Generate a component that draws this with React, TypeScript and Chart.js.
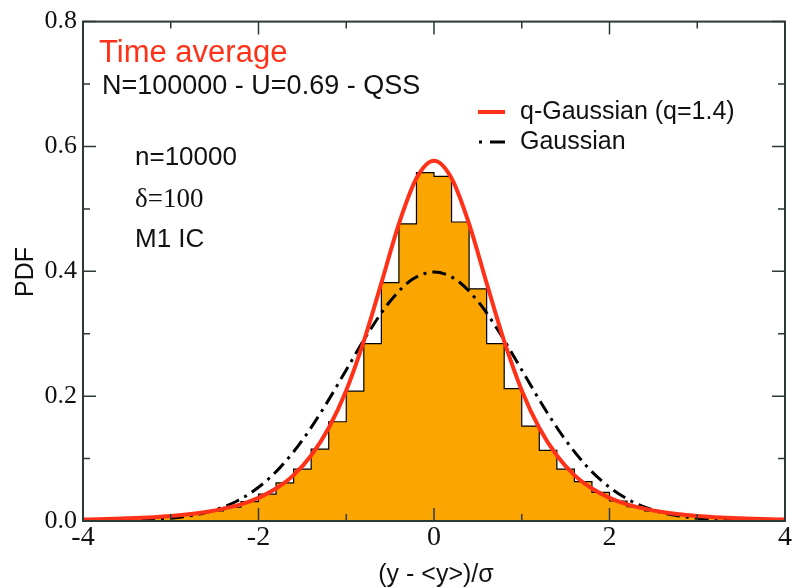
import React, { useEffect, useRef } from 'react';
import { Chart, registerables } from 'chart.js';
Chart.register(...registerables);

// Histogram: left bin edges and heights (bin width 0.2)
const binEdges = [
  -4.0, -3.8, -3.6, -3.4, -3.2, -3.0, -2.8, -2.6, -2.4, -2.2,
  -2.0, -1.8, -1.6, -1.4, -1.2, -1.0, -0.8, -0.6, -0.4, -0.2,
  0.0, 0.2, 0.4, 0.6, 0.8, 1.0, 1.2, 1.4, 1.6, 1.8,
  2.0, 2.2, 2.4, 2.6, 2.8, 3.0, 3.2, 3.4, 3.6, 3.8, 4.0,
];
const histHeights = [
  0.002, 0.003, 0.004, 0.005, 0.007, 0.009, 0.012, 0.016, 0.022, 0.031,
  0.043, 0.061, 0.083, 0.115, 0.159, 0.208, 0.284, 0.382, 0.476, 0.558,
  0.552, 0.479, 0.372, 0.284, 0.212, 0.152, 0.113, 0.083, 0.063, 0.046,
  0.032, 0.023, 0.016, 0.012, 0.009, 0.007, 0.005, 0.004, 0.003, 0.002,
];

// q-Gaussian (q=1.4) curve
const qGaussX = [
  -4, -3.5, -3, -2.6, -2.2, -2, -1.8, -1.6, -1.4, -1.2, -1, -0.8, -0.6, -0.4, -0.2,
  0, 0.2, 0.4, 0.6, 0.8, 1, 1.2, 1.4, 1.6, 1.8, 2, 2.2, 2.6, 3, 3.5, 4,
];
const qGaussY = [
  0.0024, 0.0043, 0.0081, 0.0144, 0.0267, 0.037, 0.052, 0.0735, 0.105, 0.149, 0.209, 0.288, 0.381, 0.476, 0.549,
  0.577, 0.549, 0.476, 0.381, 0.288, 0.209, 0.149, 0.105, 0.0735, 0.052, 0.037, 0.0267, 0.0144, 0.0081, 0.0043, 0.0024,
];

// Gaussian curve
const gaussX = [
  -4, -3.75, -3.5, -3.25, -3, -2.75, -2.5, -2.25, -2, -1.75, -1.5, -1.25, -1, -0.75, -0.5, -0.25,
  0, 0.25, 0.5, 0.75, 1, 1.25, 1.5, 1.75, 2, 2.25, 2.5, 2.75, 3, 3.25, 3.5, 3.75, 4,
];
const gaussY = [
  0.0001, 0.0004, 0.0009, 0.002, 0.0044, 0.0091, 0.0175, 0.0317, 0.054, 0.0863, 0.1295, 0.1826, 0.242, 0.3011, 0.3521, 0.3867,
  0.3989, 0.3867, 0.3521, 0.3011, 0.242, 0.1826, 0.1295, 0.0863, 0.054, 0.0317, 0.0175, 0.0091, 0.0044, 0.002, 0.0009, 0.0004, 0.0001,
];

const xTicks = [-4, -2, 0, 2, 4];
const xMinorTicks = [-3, -1, 1, 3];
const yTicks = [0, 0.2, 0.4, 0.6, 0.8];
const yMinorTicks = [0.1, 0.3, 0.5, 0.7];

const RED = '#ff3219';
const ORANGE = '#fba600';
const FRAME = '#2c3838';

const decorPlugin = {
  id: 'decor',
  afterDatasetsDraw(chart: any) {
    const { ctx, chartArea: a, scales } = chart;
    const xs = scales.x;
    const ys = scales.y;
    ctx.save();
    ctx.strokeStyle = FRAME;
    ctx.lineWidth = 2;
    ctx.strokeRect(a.left, a.top, a.right - a.left, a.bottom - a.top);
    ctx.lineWidth = 1.5;
    const tick = (vals: number[], len: number) => {
      vals.forEach((v) => {
        const px = xs.getPixelForValue(v);
        ctx.beginPath();
        ctx.moveTo(px, a.bottom);
        ctx.lineTo(px, a.bottom - len);
        ctx.moveTo(px, a.top);
        ctx.lineTo(px, a.top + len);
        ctx.stroke();
      });
    };
    const ytick = (vals: number[], len: number) => {
      vals.forEach((v) => {
        const py = ys.getPixelForValue(v);
        ctx.beginPath();
        ctx.moveTo(a.left, py);
        ctx.lineTo(a.left + len, py);
        ctx.moveTo(a.right, py);
        ctx.lineTo(a.right - len, py);
        ctx.stroke();
      });
    };
    tick(xTicks, 13);
    tick(xMinorTicks, 7);
    ytick(yTicks, 13);
    ytick(yMinorTicks, 7);
    ctx.restore();
  },
  afterDraw(chart: any) {
    const { ctx } = chart;
    ctx.save();
    const sans = '"Liberation Sans", Arial, sans-serif';
    const serif = '"Liberation Serif", "Times New Roman", serif';
    ctx.textAlign = 'left';
    ctx.textBaseline = 'alphabetic';
    ctx.fillStyle = RED;
    ctx.font = `31px ${sans}`;
    ctx.fillText('Time average', 99, 62);
    ctx.fillStyle = '#111';
    ctx.font = `27px ${sans}`;
    ctx.fillText('N=100000 - U=0.69 - QSS', 102, 94);
    ctx.font = `26px ${sans}`;
    ctx.fillText('n=10000', 135, 165);
    ctx.font = `27px ${serif}`;
    ctx.fillText('δ=100', 135, 207);
    ctx.font = `26px ${sans}`;
    ctx.fillText('M1 IC', 135, 247);

    // legend
    ctx.font = `25px ${sans}`;
    ctx.textBaseline = 'middle';
    ctx.fillText('q-Gaussian (q=1.4)', 520, 112);
    ctx.fillText('Gaussian', 520, 142);
    ctx.strokeStyle = RED;
    ctx.lineWidth = 4;
    ctx.beginPath();
    ctx.moveTo(478, 112);
    ctx.lineTo(505, 112);
    ctx.stroke();
    ctx.strokeStyle = '#000';
    ctx.lineWidth = 3;
    ctx.beginPath();
    ctx.moveTo(479, 142);
    ctx.lineTo(482, 142);
    ctx.moveTo(490, 142);
    ctx.lineTo(505, 142);
    ctx.stroke();

    // axis titles
    ctx.fillStyle = '#111';
    ctx.textAlign = 'center';
    ctx.textBaseline = 'alphabetic';
    ctx.font = `25px ${sans}`;
    ctx.fillText('(y - <y>)/σ', 436, 582);
    ctx.save();
    ctx.translate(33, 272);
    ctx.rotate(-Math.PI / 2);
    ctx.font = `25px ${sans}`;
    ctx.fillText('PDF', 0, 0);
    ctx.restore();
    ctx.restore();
  },
};

export default function App() {
  const ref = useRef<HTMLCanvasElement>(null);
  useEffect(() => {
    document.body.style.margin = '0';
    const canvas = ref.current;
    if (!canvas) return;
    const histData = histHeights.map((h, i) => ({ x: binEdges[i], y: h }));
    histData.push({ x: binEdges[binEdges.length - 1], y: 0 });
    const qData = qGaussX.map((x, i) => ({ x, y: qGaussY[i] }));
    const gData = gaussX.map((x, i) => ({ x, y: gaussY[i] }));
    const chart = new Chart(canvas, {
      type: 'line',
      data: {
        datasets: [
          {
            label: 'q-Gaussian (q=1.4)',
            data: qData,
            borderColor: RED,
            borderWidth: 4,
            pointRadius: 0,
            fill: false,
            cubicInterpolationMode: 'monotone',
          },
          {
            label: 'Gaussian',
            data: gData,
            borderColor: '#000',
            borderWidth: 3,
            borderDash: [14, 6, 3, 6],
            pointRadius: 0,
            fill: false,
            cubicInterpolationMode: 'monotone',
          },
          {
            label: 'Histogram',
            data: histData,
            borderColor: '#000',
            borderWidth: 1.2,
            backgroundColor: ORANGE,
            stepped: true,
            pointRadius: 0,
            fill: 'origin',
          },
        ],
      },
      options: {
        responsive: false,
        animation: false,
        layout: { padding: { top: 20, right: 10, left: 0, bottom: 0 } },
        plugins: { legend: { display: false }, tooltip: { enabled: false } },
        scales: {
          x: {
            type: 'linear',
            min: -4,
            max: 4,
            afterFit: (s: any) => { s.height = 67; },
            afterBuildTicks: (s: any) => { s.ticks = xTicks.map((v) => ({ value: v })); },
            ticks: {
              font: { family: '"Liberation Serif", "Times New Roman", serif', size: 28 },
              color: '#111',
              padding: 0,
              maxRotation: 0,
              autoSkip: false,
              callback: (v: any) => String(v),
            },
            grid: { display: false, drawTicks: false },
            border: { display: false },
          },
          y: {
            type: 'linear',
            min: 0,
            max: 0.8,
            afterFit: (s: any) => { s.width = 83; },
            afterBuildTicks: (s: any) => { s.ticks = yTicks.map((v) => ({ value: v })); },
            ticks: {
              font: { family: '"Liberation Serif", "Times New Roman", serif', size: 26 },
              color: '#111',
              padding: 6,
              autoSkip: false,
              callback: (v: any) => Number(v).toFixed(1),
            },
            grid: { display: false, drawTicks: false },
            border: { display: false },
          },
        },
      },
      plugins: [decorPlugin],
    } as any);
    return () => chart.destroy();
  }, []);
  return (
    <div style={{ width: 795, height: 588 }}>
      <canvas ref={ref} width={795} height={588} style={{ display: 'block' }} />
    </div>
  );
}
